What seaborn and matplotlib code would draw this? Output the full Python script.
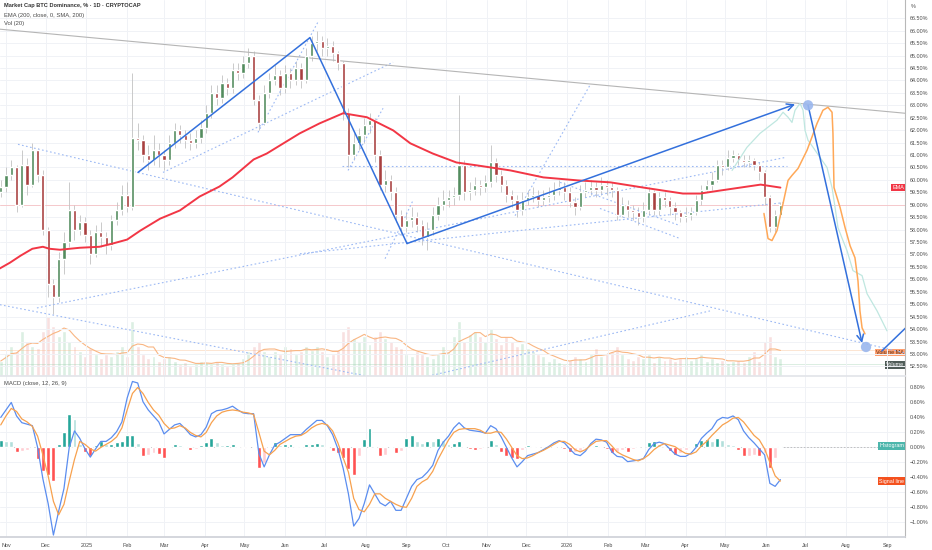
import numpy as np
import pandas as pd
import seaborn as sns
import matplotlib
matplotlib.use('Agg')
import matplotlib.pyplot as plt
import matplotlib.transforms as mtrans

# ---------------- data (4-day candles) ----------------
first_candle = '2024-10-28'
first_open = 59.5

closes = [59.7, 60.2, 60.5, 59.0, 60.6, 59.8, 61.2, 60.2, 58.0, 55.8,
          55.3, 56.8, 57.5, 58.8, 58.0, 58.3, 57.8, 57.0, 57.9, 57.7,
          57.4, 58.4, 58.8, 59.4, 58.9, 61.7, 61.6, 61.0, 60.8, 61.2,
          61.0, 60.8, 61.5, 62.0, 61.8, 61.6, 61.5, 61.7, 62.1, 62.7,
          63.5, 63.3, 63.9, 63.7, 64.4, 64.3, 64.7, 65.0, 63.2, 62.3,
          63.5, 64.0, 64.2, 63.7, 64.3, 64.0, 64.5, 64.0, 65.0, 65.5,
          65.6, 65.3, 65.4, 65.1, 64.7, 62.7, 61.0, 61.5, 61.8, 62.2,
          62.4, 61.0, 59.8, 60.0, 59.5, 58.6, 58.1, 58.4, 58.5, 58.2,
          57.7, 58.0, 58.6, 59.0, 59.2, 59.3, 59.4, 60.6, 59.5, 59.6,
          59.8, 59.7, 59.9, 60.7, 60.2, 59.8, 59.4, 59.2, 58.8, 59.2,
          59.3, 59.4, 59.2, 59.3, 59.4, 59.6, 59.7, 59.5, 59.1, 58.9,
          59.5, 59.6, 59.7, 59.6, 59.8, 59.7, 59.6, 58.6, 59.0, 58.8,
          58.7, 58.5, 58.8, 59.5, 58.8, 59.3, 59.2, 58.9, 58.7, 58.5,
          58.6, 58.7, 59.2, 59.6, 59.8, 60.0, 60.6, 60.5, 60.9, 61.0,
          60.8, 60.7, 60.8, 60.6, 60.3, 59.3, 58.1, 58.6, 59.0]

highs = [60.0, 60.5, 60.8, 60.6, 61.2, 60.9, 61.5, 61.3, 60.4, 58.1,
         56.0, 57.1, 57.9, 59.9, 59.0, 58.6, 58.5, 58.0, 58.2, 58.3,
         57.9, 58.6, 59.1, 59.8, 59.9, 64.3, 62.3, 61.8, 61.4, 61.8,
         61.5, 61.2, 61.8, 62.3, 62.2, 62.0, 61.9, 62.0, 62.4, 63.0,
         63.8, 63.8, 64.2, 64.1, 64.7, 64.7, 65.0, 65.3, 65.2, 63.4,
         63.8, 64.3, 64.6, 64.4, 64.6, 64.5, 64.8, 64.7, 65.3, 65.8,
         66.0, 65.8, 65.7, 65.6, 65.2, 64.8, 62.9, 61.9, 62.1, 62.5,
         62.7, 62.5, 61.2, 60.4, 60.2, 59.7, 58.8, 58.7, 58.9, 58.7,
         58.4, 58.3, 58.9, 59.3, 59.6, 59.6, 59.7, 63.4, 60.8, 59.9,
         60.1, 60.0, 60.2, 61.4, 60.9, 60.4, 60.0, 59.6, 59.4, 59.5,
         59.6, 59.7, 59.6, 59.6, 59.7, 59.9, 60.0, 59.9, 59.7, 59.3,
         59.8, 59.9, 60.0, 59.9, 60.1, 60.0, 59.9, 59.7, 59.3, 59.2,
         59.0, 58.9, 59.1, 59.7, 59.6, 59.5, 59.5, 59.3, 59.1, 58.8,
         58.9, 58.9, 59.4, 59.8, 60.0, 60.3, 60.8, 60.8, 61.2, 61.2,
         61.1, 61.0, 61.0, 60.9, 60.7, 60.4, 59.4, 58.8, 59.1]

lows = [59.3, 59.5, 60.0, 58.7, 58.9, 59.4, 59.7, 59.9, 57.8, 55.3,
        54.6, 55.1, 56.2, 57.3, 57.6, 57.8, 57.5, 56.6, 56.9, 57.3,
        57.0, 57.2, 58.2, 58.6, 58.7, 58.8, 61.2, 60.7, 60.4, 60.6,
        60.5, 60.4, 60.6, 61.3, 61.5, 61.3, 61.2, 61.3, 61.5, 61.9,
        62.5, 63.0, 63.1, 63.4, 63.5, 64.0, 64.1, 64.5, 63.0, 62.0,
        62.2, 63.3, 63.8, 63.4, 63.5, 63.7, 63.8, 63.7, 63.9, 64.8,
        65.2, 65.0, 65.0, 64.8, 64.4, 62.4, 60.5, 60.8, 61.2, 61.5,
        61.9, 60.7, 59.6, 59.5, 59.2, 58.3, 57.8, 57.9, 58.1, 57.9,
        57.4, 57.2, 57.8, 58.4, 58.8, 58.9, 59.0, 59.2, 59.2, 59.2,
        59.4, 59.4, 59.5, 59.7, 59.9, 59.5, 59.1, 58.9, 58.5, 58.6,
        59.0, 59.1, 58.9, 59.0, 59.1, 59.2, 59.4, 59.2, 58.9, 58.6,
        58.8, 59.3, 59.4, 59.3, 59.4, 59.4, 59.3, 58.4, 58.5, 58.5,
        58.4, 58.2, 58.3, 58.6, 58.6, 58.6, 58.9, 58.6, 58.4, 58.3,
        58.3, 58.4, 58.6, 59.0, 59.5, 59.6, 59.9, 60.2, 60.4, 60.7,
        60.6, 60.5, 60.5, 60.4, 60.0, 59.0, 57.9, 57.9, 58.5]

volumes = [15, 22, 30, 25, 45, 35, 30, 28, 45, 60,
           50, 40, 45, 35, 30, 25, 20, 28, 22, 18,
           22, 20, 25, 30, 20, 55, 30, 22, 18, 20,
           15, 18, 20, 15, 12, 14, 10, 12, 15, 14,
           12, 15, 12, 10, 12, 14, 18, 25, 30, 35,
           25, 20, 25, 22, 30, 28, 22, 25, 30, 26,
           30, 25, 20, 22, 26, 45, 50, 38, 35, 40,
           32, 40, 45, 38, 35, 30, 28, 22, 20, 25,
           22, 20, 18, 22, 30, 25, 40, 55, 35, 42,
           45, 40, 35, 48, 38, 32, 40, 35, 30, 33,
           28, 25, 22, 20, 15, 18, 14, 12, 16, 20,
           18, 15, 22, 28, 20, 22, 25, 30, 22, 18,
           16, 20, 18, 22, 14, 20, 16, 18, 15, 18,
           20, 16, 18, 22, 15, 18, 14, 16, 13, 15,
           16, 14, 20, 25, 15, 35, 40, 20, 18]

macd_line = [0.40, 0.50, 0.60, 0.42, 0.33, 0.31, 0.29, 0.00, -0.42, -0.75,
             -1.17, -0.85, -0.55, 0.00, 0.22, 0.12, -0.02, -0.13, -0.02, 0.08,
             0.08, 0.13, 0.21, 0.34, 0.66, 0.88, 0.86, 0.61, 0.50, 0.42,
             0.34, 0.18, 0.24, 0.30, 0.32, 0.25, 0.17, 0.14, 0.17, 0.27,
             0.45, 0.49, 0.50, 0.52, 0.55, 0.50, 0.46, 0.45, 0.45, -0.08,
             -0.26, -0.10, 0.03, 0.07, 0.12, 0.17, 0.17, 0.17, 0.24, 0.30,
             0.36, 0.36, 0.29, 0.17, -0.02, -0.28, -0.62, -1.05, -0.95, -0.75,
             -0.50, -0.62, -0.74, -0.78, -0.72, -0.84, -0.84, -0.68, -0.52, -0.43,
             -0.40, -0.33, -0.24, -0.04, 0.07, 0.15, 0.26, 0.33, 0.26, 0.23,
             0.22, 0.21, 0.19, 0.29, 0.25, 0.14, 0.00, -0.14, -0.26, -0.19,
             -0.11, -0.09, -0.07, -0.03, 0.01, 0.06, 0.09, 0.06, -0.02, -0.09,
             -0.11, -0.05, 0.05, 0.11, 0.10, 0.07, -0.06, -0.12, -0.13, -0.19,
             -0.18, -0.17, -0.15, -0.03, 0.05, 0.07, 0.05, -0.02, -0.09, -0.12,
             -0.12, -0.08, 0.00, 0.12, 0.19, 0.25, 0.36, 0.40, 0.39, 0.42,
             0.37, 0.22, 0.13, 0.06, -0.02, -0.10, -0.48, -0.52, -0.43]

signal_line = [0.30, 0.42, 0.52, 0.48, 0.38, 0.34, 0.28, 0.15, -0.10, -0.38,
               -0.72, -0.90, -0.76, -0.45, -0.16, 0.08, 0.04, -0.02, -0.05, 0.00,
               0.04, 0.08, 0.14, 0.26, 0.50, 0.72, 0.80, 0.72, 0.60, 0.50,
               0.43, 0.32, 0.25, 0.26, 0.29, 0.26, 0.20, 0.16, 0.14, 0.20,
               0.33, 0.42, 0.47, 0.49, 0.50, 0.49, 0.47, 0.46, 0.44, 0.20,
               -0.05, -0.10, -0.04, 0.04, 0.08, 0.12, 0.15, 0.16, 0.20, 0.26,
               0.30, 0.32, 0.30, 0.22, 0.06, -0.14, -0.33, -0.68, -0.83, -0.86,
               -0.76, -0.62, -0.62, -0.68, -0.72, -0.76, -0.79, -0.80, -0.68, -0.52,
               -0.46, -0.42, -0.32, -0.16, -0.03, 0.10, 0.20, 0.24, 0.25, 0.25,
               0.25, 0.23, 0.19, 0.19, 0.21, 0.20, 0.11, 0.00, -0.11, -0.15,
               -0.14, -0.11, -0.07, -0.04, 0.00, 0.04, 0.08, 0.08, 0.04, -0.03,
               -0.06, -0.03, 0.03, 0.08, 0.09, 0.09, 0.02, -0.06, -0.10, -0.13,
               -0.16, -0.18, -0.15, -0.10, -0.03, 0.02, 0.05, 0.03, 0.01, -0.04,
               -0.08, -0.09, -0.06, 0.02, 0.08, 0.16, 0.23, 0.30, 0.34, 0.39,
               0.40, 0.34, 0.25, 0.16, 0.10, -0.02, -0.20, -0.38, -0.45]

ema_dates = ['2024-10-27', '2024-11-04', '2024-11-12', '2024-11-21', '2024-11-29',
             '2024-12-04', '2024-12-12', '2024-12-27', '2025-01-11', '2025-01-21',
             '2025-02-01', '2025-02-11', '2025-02-26', '2025-03-13', '2025-03-28',
             '2025-04-12', '2025-04-22', '2025-05-08', '2025-05-18', '2025-06-12',
             '2025-06-27', '2025-07-15', '2025-08-02', '2025-08-22', '2025-09-04',
             '2025-09-21', '2025-10-09', '2025-10-25', '2025-11-19', '2025-12-14',
             '2026-01-09', '2026-02-03', '2026-02-28', '2026-03-30', '2026-04-12',
             '2026-04-27', '2026-05-28', '2026-06-12']
ema_values = [56.43, 56.67, 56.95, 57.23, 57.31, 57.23, 57.19, 57.27, 57.31, 57.44,
              57.60, 57.96, 58.44, 58.77, 59.33, 59.73, 60.10, 60.82, 61.06, 61.87,
              62.27, 62.68, 62.52, 61.99, 61.47, 61.06, 60.70, 60.58, 60.38, 60.10,
              59.98, 59.90, 59.69, 59.45, 59.45, 59.57, 59.81, 59.69]

# drawings (days after 2024-11-01, value in %)
zigzag_day = [100.2, 230.8, 304.5]
zigzag_pct = [60.30, 65.72, 57.44]
arrow_up = (304.5, 57.44, 599.1, 63.04)
arrow_down = (609.0, 63.00, 650.0, 53.44)
rebound_seg = (665.0, 53.12, 690.0, 54.40)
marker_day = [609.0, 653.0]
marker_pct = [63.00, 53.28]
resistance = (-4.6, 66.06, 682.6, 62.68)

orange_day = [575.5, 578.6, 581.6, 585.4, 590.0, 593.8, 596.8, 601.4, 608.2, 615.8,
              620.3, 624.1, 627.2, 627.9, 628.7, 631.0, 633.3, 637.1, 640.9, 644.6,
              646.9, 648.4, 650.0, 652.2]
orange_pct = [58.65, 57.64, 57.56, 57.96, 59.05, 59.98, 60.18, 60.46, 61.19, 62.27,
              62.80, 62.92, 62.72, 61.87, 59.69, 59.29, 58.89, 58.08, 57.35, 56.87,
              55.94, 54.73, 54.05, 53.81]
teal_day = [551.3, 562.6, 572.5, 585.4, 590.0, 593.8, 596.8, 599.1, 602.9, 605.2,
            606.7, 609.0, 612.8, 618.1, 623.4, 627.2, 629.5, 631.7, 635.5, 638.6,
            643.1, 650.0, 653.8, 661.4, 668.9]
teal_pct = [60.38, 61.31, 61.87, 62.40, 62.72, 62.52, 62.31, 62.80, 63.08, 62.80,
            61.99, 61.59, 61.31, 60.90, 60.50, 59.69, 58.89, 58.08, 57.56, 57.15,
            56.35, 56.15, 55.42, 54.73, 53.93]

dotted_guides = [(9.1, 61.43, 682.6, 53.04), (-4.6, 54.98, 277.9, 52.07),
                 (23.5, 54.85, 591.5, 60.90), (223.2, 57.03, 591.5, 59.09),
                 (119.2, 60.30, 293.9, 64.73), (191.3, 61.91, 236.9, 66.35),
                 (259.7, 60.38, 286.3, 62.88), (255.1, 60.54, 593.0, 60.54),
                 (287.8, 56.83, 309.0, 59.17), (386.5, 58.56, 443.4, 63.81),
                 (420.7, 59.90, 511.8, 58.16), (451.0, 58.85, 511.8, 57.64),
                 (314.4, 52.03, 534.5, 54.73)]

# ---------------- derived ----------------
base = pd.Timestamp('2024-11-01')


def day(d):
    return base + pd.to_timedelta(np.asarray(d, dtype=float), unit='D')


dates = pd.date_range(first_candle, periods=len(closes), freq='4D')
c = np.array(closes)
o = np.r_[first_open, c[:-1]]
up = c >= o
macd = np.array(macd_line)
signal = np.array(signal_line)
hist = macd - signal
prev = np.r_[hist[0], hist[:-1]]
hist_colors = np.where(hist >= 0, np.where(hist >= prev, '#26a69a', '#b2dfdb'),
                       np.where(hist < prev, '#ff5252', '#ffcdd2'))
vol_ma = pd.Series(volumes, dtype=float).rolling(5, min_periods=1).mean()

sns.set_theme(style='white')
plt.rcParams['font.family'] = ['Liberation Sans Narrow', 'Liberation Sans', 'DejaVu Sans']
txt = '#4a4a4a'
grid_c = '#f0f2f6'
fs = 3.9
fs_leg = 4.2

fig = plt.figure(figsize=(9.32, 5.5), dpi=100)
ax = fig.add_axes([0, 1 - 376 / 550, 905 / 932, 376 / 550])
axm = fig.add_axes([0, 13 / 550, 905 / 932, 161 / 550], sharex=ax)
axv = ax.twinx()
ax.set_zorder(axv.get_zorder() + 1)
ax.patch.set_visible(False)

x0, x1 = day(-4.56), day(682.6)

# volume
axv.bar(dates, volumes, width=3.0, color=np.where(up, '#dcefe3', '#f8e0e0'), zorder=1)
sns.lineplot(x=dates, y=vol_ma.values, ax=axv, color='#f9b683', lw=0.8, legend=False)
axv.axhline(vol_ma.iloc[-1], color='#f9b683', lw=0.5, alpha=0.5)
axv.axhline(volumes[-1] - 6, color='#9ccfae', lw=0.5, alpha=0.5)
axv.set_ylim(0, 376)
axv.axis('off')

# price
ax.axhline(closes[-1], color='#f6c1c4', lw=0.6)
ax.vlines(dates, lows, highs, color='#c2c2c2', lw=0.6, zorder=2)
ax.bar(dates, np.maximum(np.abs(c - o), 0.05), bottom=np.minimum(o, c), width=2.4,
       color=np.where(up, '#538c5e', '#a84040'), zorder=3)
sns.lineplot(x=pd.to_datetime(ema_dates), y=ema_values, ax=ax, color='#f23645', lw=1.4,
             legend=False, zorder=4)

# drawings
for d0, p0, d1, p1 in dotted_guides:
    ax.plot(day([d0, d1]), [p0, p1], color='#9cb9f4', lw=0.8, ls=(0, (1.5, 2.2)), zorder=2)
ax.plot(day([resistance[0], resistance[2]]), [resistance[1], resistance[3]], color='#b5b5b5', lw=0.8)
ax.plot(day(zigzag_day), zigzag_pct, color='#3370dc', lw=1.1, zorder=5)
for d0, p0, d1, p1 in (arrow_up, arrow_down):
    ax.annotate('', xy=(day(d1), p1), xytext=(day(d0), p0),
                arrowprops=dict(arrowstyle='->', color='#3370dc', lw=1.1, shrinkA=0, shrinkB=0),
                zorder=5)
ax.plot(day([rebound_seg[0], rebound_seg[2]]), [rebound_seg[1], rebound_seg[3]], color='#3370dc', lw=1.1)
ax.plot(day(teal_day), teal_pct, color='#bfe7e0', lw=0.9, zorder=4)
ax.plot(day(orange_day), orange_pct, color='#ffa857', lw=1.1, zorder=4)
ax.scatter(day(marker_day), marker_pct, s=55, color='#9ab7ee', alpha=0.9, edgecolor='none', zorder=6)

# macd
axm.axhline(0, color='#b8b8b8', lw=0.6, ls=(0, (2, 2)))
axm.bar(dates, hist, width=3.0, color=hist_colors, zorder=2)
sns.lineplot(x=dates, y=macd, ax=axm, color='#5b8def', lw=0.9, legend=False, zorder=3)
sns.lineplot(x=dates, y=signal, ax=axm, color='#f7a14e', lw=0.9, legend=False, zorder=3)

# axes styling
months = pd.date_range('2024-11-01', '2026-09-01', freq='MS')
month_labels = [str(m.year) if m.month == 1 else m.strftime('%b') for m in months]
ax.set_xlim(x0, x1)
ax.set_ylim(52.113, 67.234)
axm.set_ylim(-1.196, 0.953)
axm.set_xticks(months)
axm.set_xticklabels(month_labels)
p_ticks = np.arange(52.5, 66.51, 0.5)
m_ticks = np.round(np.arange(-1.0, 0.81, 0.2), 2)
ax.set_yticks(p_ticks)
ax.set_yticklabels([f'{v:.2f}%' for v in p_ticks])
axm.set_yticks(m_ticks)
axm.set_yticklabels([f'{v:.2f}%'.replace('-', '\u2212') if v != 0 else '0.00%' for v in m_ticks])
for a in (ax, axm):
    a.yaxis.tick_right()
    a.grid(True, color=grid_c, lw=0.7)
    a.tick_params(axis='both', length=0, labelsize=fs, colors=txt, pad=3.5)
    for s in ('top', 'left'):
        a.spines[s].set_visible(False)
    a.spines['right'].set_color('#b8b8b8')
    a.spines['right'].set_linewidth(0.8)
    a.spines['bottom'].set_color('#e3e5ea')
    a.set_xlabel('')
    a.set_ylabel('')
ax.tick_params(axis='x', labelbottom=False)
axm.tick_params(axis='x', pad=4)
axm.spines['bottom'].set_color('#cfd2d8')

# legends / labels
fig.text(4 / 932, 1 - 6 / 550, 'Market Cap BTC Dominance, % \u00b7 1D \u00b7 CRYPTOCAP', fontsize=4.1,
         color='#333333', fontweight='bold', va='center')
fig.text(4 / 932, 1 - 15 / 550, 'EMA (200, close, 0, SMA, 200)', fontsize=fs_leg, color=txt, va='center')
fig.text(4 / 932, 1 - 23 / 550, 'Vol (20)', fontsize=fs_leg, color=txt, va='center')
fig.text(4 / 932, 1 - 384 / 550, 'MACD (close, 12, 26, 9)', fontsize=fs_leg, color=txt, va='center')
fig.text(911 / 932, 1 - 6 / 550, '%', fontsize=fs, color=txt, va='center')


def tag(axis, y, text, fc, tc='white'):
    tr = mtrans.blended_transform_factory(axis.transAxes, axis.transData)
    axis.text(0.999, y, text, transform=tr, ha='right', va='center', fontsize=3.9, color=tc,
              bbox=dict(boxstyle='square,pad=0.25', fc=fc, ec='none'), zorder=10, clip_on=False)


tag(ax, ema_values[-1], 'EMA', '#f23645')
tag(axv, vol_ma.iloc[-1] - 2, 'Volume MA', '#ff9f6e', '#5a2a10')
tag(axv, volumes[-1] - 7, 'Volume', '#4e5b57')
tag(axm, hist[-1], 'Histogram', '#4db6ac')
tag(axm, signal[-1], 'Signal line', '#f4511e')

plt.savefig('out.png', dpi=100, facecolor='white')
plt.close()
